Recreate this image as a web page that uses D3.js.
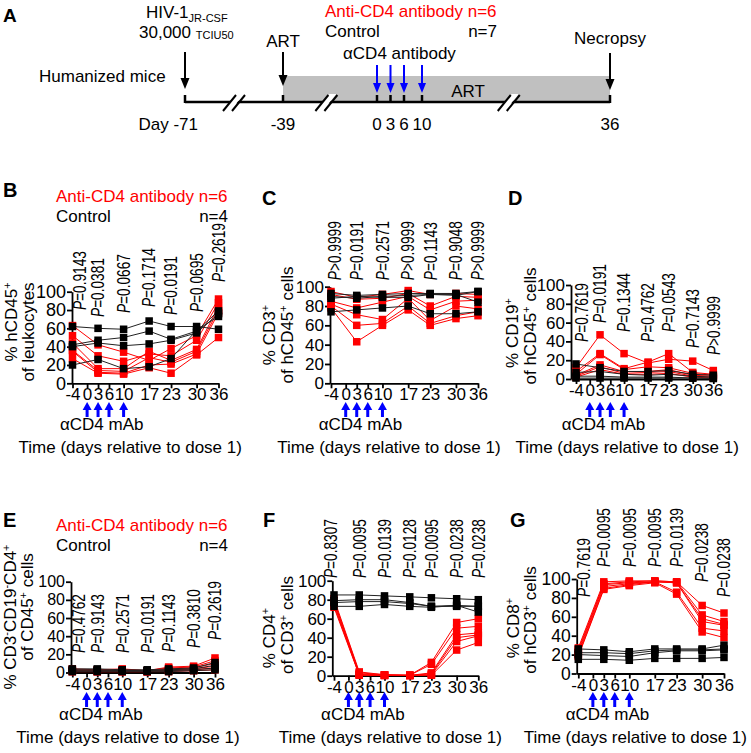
<!DOCTYPE html>
<html><head><meta charset="utf-8">
<script src="https://cdn.jsdelivr.net/npm/d3@7"></script>
<style>
body{margin:0;background:#fff;}
svg{display:block;font-family:"Liberation Sans",Arial,sans-serif;}
</style></head><body>
<svg id="c" width="751" height="753"></svg>
<script>
// ---------------- DATA ----------------
const times = [-4, 3, 10, 17, 23, 30, 36];
const xTicks = [-4, 0, 3, 6, 10, 17, 23, 30, 36];
const yTicks = [0, 20, 40, 60, 80, 100];
const doseDays = [0, 3, 6, 10];

// Panel A timeline
const timelineDays = [-71, -39, 0, 3, 6, 10, 36];
const timelineLabels = ["Day -71", "-39", "0", "3", "6", "10", "36"];
const breakDays = [-55, -21, 22];

// Panel B: % hCD45+ of leukocytes
const bAnti = [
  [63, 42, 34, 25, 38, 52, 92],
  [52, 30, 24, 32, 30, 47, 88],
  [44, 16, 16, 35, 25, 37, 84],
  [36, 14, 13, 28, 23, 35, 80],
  [35, 12, 11, 20, 21, 32, 77],
  [27, 11, 10, 17, 11, 31, 50]
];
const bCtrl = [
  [62, 60, 59, 68, 62, 62, 59],
  [42, 47, 50, 57, 48, 57, 79],
  [40, 44, 41, 43, 47, 55, 76],
  [20, 26, 16, 18, 27, 58, 73]
];
const bP = ["=0.9143", "=0.0381", "=0.0667", "=0.1714", "=0.0191", "=0.0695", "=0.2619"];

// Panel C: % CD3+ of hCD45+ cells
const cAnti = [
  [95, 89, 92, 96, 92, 93, 92],
  [92, 87, 88, 93, 80, 90, 89],
  [85, 78, 84, 90, 76, 85, 86],
  [82, 71, 66, 88, 65, 80, 77],
  [80, 60, 62, 80, 62, 70, 74],
  [78, 43, 60, 76, 60, 67, 70]
];
const cCtrl = [
  [93, 91, 92, 93, 93, 93, 95],
  [90, 88, 90, 91, 92, 91, 95],
  [88, 90, 89, 89, 92, 92, 84],
  [74, 76, 78, 80, 72, 72, 74]
];
const cP = [">0.9999", "=0.0191", "=0.2571", ">0.9999", "=0.1143", "=0.9048", ">0.9999"];

// Panel D: % CD19+ of hCD45+ cells
const dAnti = [
  [12, 47, 27, 17, 21, 19, 9],
  [8, 27, 11, 18, 27, 7, 5],
  [5, 26, 10, 13, 12, 6, 4],
  [4, 15, 8, 8, 10, 4, 3],
  [3, 13, 6, 7, 8, 3, 2],
  [2, 10, 5, 5, 6, 2, 1]
];
const dCtrl = [
  [16, 12, 8, 8, 9, 5, 4],
  [7, 8, 5, 4, 5, 3, 2],
  [3, 3, 2, 2, 2, 1, 1],
  [1, 1, 1, 1, 1, 1, 0.5]
];
const dP = ["=0.7619", "=0.0191", "=0.1344", "=0.4762", "=0.0543", "=0.7143", ">0.9999"];

// Panel E: % CD3-CD19-CD4+ of CD45+ cells
const eAnti = [
  [4, 3, 4, 2, 6, 7, 16],
  [3, 2, 3, 2, 5, 6, 13],
  [2, 2, 2, 1, 4, 5, 10],
  [2, 1, 1, 1, 3, 4, 7],
  [1, 1, 1, 1, 2, 3, 5],
  [1, 1, 1, 1, 1, 2, 3]
];
const eCtrl = [
  [4, 4, 3, 3, 4, 5, 11],
  [3, 3, 2, 2, 3, 4, 8],
  [2, 2, 2, 2, 2, 3, 5],
  [1, 1, 1, 1, 1, 2, 3]
];
const eP = ["=0.4762", "=0.9143", "=0.2571", "=0.0191", "=0.1143", "=0.3810", "=0.2619"];

// Panel F: % CD4+ of CD3+ cells
const fAnti = [
  [81, 4, 1, 0.5, 14, 56, 60],
  [79, 3, 1, 0.5, 12, 50, 52],
  [78, 2, 0.5, 0.3, 3, 43, 45],
  [76, 1, 0.5, 0.3, 2, 40, 43],
  [74, 1, 0.3, 0.2, 1, 36, 42],
  [72, 0.5, 0.2, 0.2, 0.5, 27, 35]
];
const fCtrl = [
  [85, 85, 84, 83, 82, 81, 80],
  [79, 80, 80, 77, 73, 74, 73],
  [77, 78, 78, 76, 73, 73, 73],
  [73, 73, 75, 73, 72, 74, 67]
];
const fP = ["=0.8307", "=0.0095", "=0.0139", "=0.0128", "=0.0095", "=0.0238", "=0.0238"];

// Panel G: % CD8+ of hCD3+ cells
const gAnti = [
  [27, 97, 98, 98, 97, 72, 64],
  [25, 95, 97, 98, 97, 62, 55],
  [23, 94, 96, 97, 96, 58, 52],
  [21, 92, 95, 97, 96, 55, 51],
  [19, 90, 94, 97, 86, 48, 45],
  [18, 89, 93, 96, 84, 44, 38]
];
const gCtrl = [
  [26, 25, 23, 26, 26, 26, 30],
  [22, 22, 21, 24, 25, 25, 26],
  [20, 19, 18, 22, 24, 24, 25],
  [15, 15, 14, 16, 16, 16, 17]
];
const gP = ["=0.7619", "=0.0095", "=0.0095", "=0.0095", "=0.0139", "=0.0238", "=0.0238"];

// ---------------- DRAWING ----------------
const FONT = '"Liberation Sans", Arial, sans-serif';
const RED = "#ff0000", BLUE = "#0000ff";
const svg = d3.select("#c");

function txt(g, x, y, s, opts = {}) {
  const t = g.append("text").attr("x", x).attr("y", y)
    .attr("font-size", opts.fs || 17).attr("font-family", FONT)
    .attr("fill", opts.fill || "#000")
    .attr("text-anchor", opts.anchor || "start");
  if (opts.bold) t.attr("font-weight", "bold");
  t.text(s);
  return t;
}

function arrow(g, x, yTail, yTip, color, sw, hw, hh) {
  const dir = yTip > yTail ? 1 : -1;
  g.append("line").attr("x1", x).attr("x2", x).attr("y1", yTail).attr("y2", yTip - dir * hh * 0.6)
    .attr("stroke", color).attr("stroke-width", sw);
  g.append("path").attr("d", `M${x - hw / 2},${yTip - dir * hh} L${x + hw / 2},${yTip - dir * hh} L${x},${yTip} Z`)
    .attr("fill", color);
}

// ----- Panel A -----
(function () {
  const g = svg.append("g");
  const tl = d3.scaleLinear().domain([-71, -39, 0, 10, 36]).range([185, 283, 377, 422, 610]);
  const lineY = 102;
  txt(g, 3, 22, "A", { fs: 19, bold: true });
  g.append("rect").attr("x", tl(-39)).attr("y", 76).attr("width", tl(36) - tl(-39)).attr("height", lineY - 76)
    .attr("fill", "#c0c0c0");
  g.append("line").attr("x1", tl(-71)).attr("x2", tl(36)).attr("y1", lineY).attr("y2", lineY)
    .attr("stroke", "#000").attr("stroke-width", 2.5);
  g.selectAll(".tk").data(timelineDays).enter().append("line")
    .attr("x1", d => tl(d)).attr("x2", d => tl(d)).attr("y1", lineY - 7).attr("y2", lineY + 1)
    .attr("stroke", "#000").attr("stroke-width", 2.5);
  breakDays.forEach(b => {
    const c = tl(b);
    g.append("path").attr("d", `M${c - 10},${lineY + 8} L${c - 3},${lineY + 8} L${c + 10},${lineY - 8} L${c + 3},${lineY - 8} Z`)
      .attr("fill", "#fff");
    g.append("line").attr("x1", c - 11).attr("y1", lineY + 9).attr("x2", c + 2).attr("y2", lineY - 7)
      .attr("stroke", "#000").attr("stroke-width", 2);
    g.append("line").attr("x1", c - 2).attr("y1", lineY + 9).attr("x2", c + 11).attr("y2", lineY - 7)
      .attr("stroke", "#000").attr("stroke-width", 2);
  });
  timelineLabels.forEach((s, i) => {
    if (i === 0) txt(g, tl(timelineDays[i]) + 13, 130, s, { anchor: "end" });
    else txt(g, tl(timelineDays[i]), 130, s, { anchor: "middle" });
  });
  arrow(g, tl(-71), 52, 89, "#000", 2, 9, 11);
  arrow(g, tl(-39), 52, 86, "#000", 2, 9, 11);
  arrow(g, tl(36), 53, 90, "#000", 2, 9, 11);
  doseDays.forEach(d => arrow(g, tl(d), 65, 93, BLUE, 2, 8, 10));
  const h = txt(g, 146, 18, "HIV-1");
  h.append("tspan").attr("font-size", 11).attr("dy", 4).text("JR-CSF");
  const h2 = txt(g, 139, 38, "30,000 ");
  h2.append("tspan").attr("font-size", 11).attr("dy", 1).text("TCIU50");
  txt(g, tl(-39), 47, "ART", { anchor: "middle" });
  txt(g, 39, 82, "Humanized mice");
  txt(g, 325, 17, "Anti-CD4 antibody n=6", { fill: RED });
  txt(g, 325, 37, "Control");
  txt(g, 497, 37, "n=7", { anchor: "end" });
  txt(g, 343, 59, "\u03B1CD4 antibody");
  txt(g, tl(36), 44, "Necropsy", { anchor: "middle" });
  txt(g, 468, 97, "ART", { anchor: "middle" });
})();

// ----- Panels B-G -----
function panel(cfg) {
  const g = svg.append("g");
  const x = d3.scaleLinear().domain([-4, 36]).range([cfg.x0, cfg.x1]);
  const xa = d3.scaleLinear().domain([x.invert(cfg.axisX), 36]).range([cfg.axisX, cfg.x1]);
  const y = d3.scaleLinear().domain([0, 100]).range([cfg.y0, cfg.y1]);

  txt(g, cfg.letter[1], cfg.letter[2], cfg.letter[0], { fs: 20, bold: true });

  const gy = g.append("g").attr("transform", `translate(${cfg.axisX},0)`)
    .call(d3.axisLeft(y).tickValues(yTicks).tickSize(5).tickSizeOuter(0).tickPadding(1));
  gy.attr("font-size", cfg.yFs).attr("font-family", FONT);
  gy.selectAll("path,line").attr("stroke", "#000").attr("stroke-width", 1.8);
  gy.selectAll("text").attr("fill", "#000");

  const gx = g.append("g").attr("transform", `translate(0,${cfg.y0})`)
    .call(d3.axisBottom(xa).tickValues(xTicks).tickSize(5).tickSizeOuter(0).tickPadding(0).tickFormat(d => String(d)));
  gx.attr("font-size", 17).attr("font-family", FONT);
  gx.selectAll("path,line").attr("stroke", "#000").attr("stroke-width", 1.8);
  gx.selectAll("text").attr("fill", "#000");

  const line = d3.line().x((d, i) => x(times[i])).y(d => y(d));
  const S = 7.5;
  const drawGroup = (data, color, lineColor) => {
    const sg = g.append("g");
    sg.selectAll("path").data(data).enter().append("path")
      .attr("d", line).attr("fill", "none").attr("stroke", lineColor).attr("stroke-width", 1);
    data.forEach(s => {
      sg.selectAll(null).data(s).enter().append("rect")
        .attr("x", (d, i) => x(times[i]) - S / 2).attr("y", d => y(d) - S / 2)
        .attr("width", S).attr("height", S).attr("fill", color);
    });
  };
  drawGroup(cfg.anti, RED, RED);
  drawGroup(cfg.ctrl, "#000", "#222");

  cfg.p.forEach((s, i) => {
    const px = x(times[i]) + (i === 0 ? cfg.pOff0 : 0);
    const py = y(cfg.pY[i]);
    const t = g.append("text").attr("transform", `translate(${px},${py}) rotate(-90) scale(0.76,1)`)
      .attr("dy", "0.35em").attr("font-size", 18).attr("font-family", FONT).attr("fill", "#000");
    t.append("tspan").attr("font-style", "italic").text("P");
    t.append("tspan").text(s);
  });

  cfg.ylab.forEach((segs, li) => {
    const L = cfg.yl[li];
    const t = g.append("text").attr("transform", `translate(${L[0]},${L[1]}) rotate(-90)`)
      .attr("text-anchor", "middle").attr("font-size", 17).attr("font-family", FONT).attr("fill", "#000");
    let up = false;
    segs.forEach(sg => {
      if (sg[1]) { t.append("tspan").attr("font-size", 11).attr("dy", up ? 0 : -6).text(sg[0]); up = true; }
      else { t.append("tspan").attr("dy", up ? 6 : 0).text(sg[0]); up = false; }
    });
  });

  doseDays.forEach(d => arrow(g, x(d), cfg.arrowBottom, cfg.arrowBottom - 15, BLUE, 3, 9, 8));
  txt(g, x(4), cfg.arrowBottom + 13, "\u03B1CD4 mAb", { anchor: "middle" });
  txt(g, (cfg.axisX + cfg.x1) / 2 - 15, cfg.arrowBottom + 36, "Time (days relative to dose 1)", { anchor: "middle" });

  if (cfg.legend) {
    const [lx, ly, rx, n] = cfg.legend;
    txt(g, lx, ly, "Anti-CD4 antibody n=6", { fill: RED });
    txt(g, lx, ly + 20, "Control");
    txt(g, rx, ly + 20, "n=" + n, { anchor: "end" });
  }
}

panel({ letter: ["B", 3, 197], axisX: 72, x0: 72.5, x1: 218.5, y0: 383.3, y1: 291.7, yFs: 18,
  anti: bAnti, ctrl: bCtrl, p: bP, pOff0: 7, pY: [80, 72.4, 76.7, 83.3, 74.6, 77.8, 110.6],
  ylab: [[["% hCD45", 0], ["+", 1]], [["of leukocytes", 0]]], yl: [[17, 322], [34, 332]],
  arrowBottom: 417, legend: [56, 202, 228, 4] });

panel({ letter: ["C", 262, 205], axisX: 330, x0: 331, x1: 478, y0: 383.3, y1: 286.7, yFs: 17,
  anti: cAnti, ctrl: cCtrl, p: cP, pOff0: 4, pY: [106.8, 106.8, 106.8, 106.8, 106.8, 106.8, 106.8],
  ylab: [[["% CD3", 0], ["+", 1]], [["of hCD45", 0], ["+", 1], [" cells", 0]]], yl: [[275, 335], [293, 325]],
  arrowBottom: 417 });

panel({ letter: ["D", 508, 205], axisX: 571, x0: 576, x1: 713.3, y0: 379, y1: 285, yFs: 17,
  anti: dAnti, ctrl: dCtrl, p: dP, pOff0: 6, pY: [39.4, 59.6, 50, 39.4, 50, 33, 25.5],
  ylab: [[["% CD19", 0], ["+", 1]], [["of hCD45", 0], ["+", 1], [" cells", 0]]], yl: [[518, 333], [536, 326]],
  arrowBottom: 417 });

panel({ letter: ["E", 3, 527], axisX: 71, x0: 72.3, x1: 215, y0: 672.5, y1: 581.7, yFs: 16,
  anti: eAnti, ctrl: eCtrl, p: eP, pOff0: 6, pY: [21.5, 21.5, 21.5, 21.5, 22.6, 27, 35.8],
  ylab: [[["% CD3", 0], ["-", 1], ["CD19", 0], ["-", 1], ["CD4", 0], ["+", 1]], [["of CD45", 0], ["+", 1], [" cells", 0]]],
  yl: [[16, 617], [33, 607]],
  arrowBottom: 707, legend: [56, 531, 228, 4] });

panel({ letter: ["F", 263, 527], axisX: 332.3, x0: 334, x1: 478.3, y0: 675.7, y1: 580.7, yFs: 17,
  anti: fAnti, ctrl: fCtrl, p: fP, pOff0: -3, pY: [102.8, 102.8, 102.8, 102.8, 102.8, 102.8, 102.8],
  ylab: [[["% CD4", 0], ["+", 1]], [["of CD3", 0], ["+", 1], [" cells", 0]]], yl: [[275, 638], [293, 625]],
  arrowBottom: 707 });

panel({ letter: ["G", 510, 527], axisX: 576.7, x0: 578.3, x1: 724, y0: 673.5, y1: 579, yFs: 17.5,
  anti: gAnti, ctrl: gCtrl, p: gP, pOff0: 5, pY: [81, 112.7, 112.7, 112.7, 112.7, 96.8, 81],
  ylab: [[["% CD8", 0], ["+", 1]], [["of hCD3", 0], ["+", 1], [" cells", 0]]], yl: [[519, 628], [536, 620]],
  arrowBottom: 707 });
</script>
</body></html>
